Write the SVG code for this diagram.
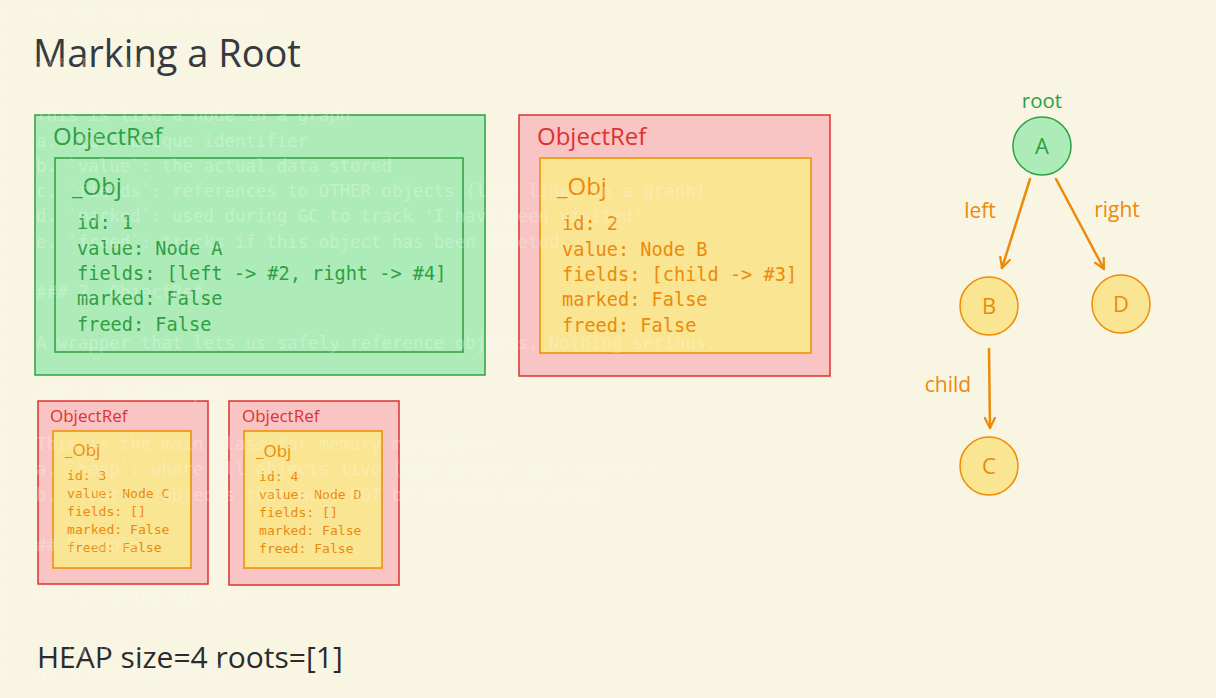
<svg xmlns="http://www.w3.org/2000/svg" width="1216" height="698" viewBox="0 0 1216 698">
<defs>
<style>
.bg{fill:#f8f5e3}
.sans{font-family:"Open Sans","Noto Sans","Liberation Sans",sans-serif}
.mono{font-family:"DejaVu Sans Mono","Liberation Mono",monospace}
.g-fill{fill:#adecb8;stroke:#2f9e44;stroke-width:1.5}
.r-fill{fill:#f8c5c4;stroke:#e03131;stroke-width:1.5}
.y-fill{fill:#f9e592;stroke:#f08c00;stroke-width:1.5}
.gt{fill:#2f9e44}
.rt{fill:#e03131}
.ot{fill:#ec8a0c}
.big-mono{font-size:18.6px}
.small-mono{font-size:13.1px}
.edge{stroke:#ec8a0c;stroke-width:2.5;fill:none;stroke-linecap:round}
.ghost{font-family:"DejaVu Sans Mono","Liberation Mono",monospace;font-size:17.4px;fill:#ffffff;fill-opacity:0.27}
</style>
<marker id="arr" viewBox="0 0 12 12" refX="11" refY="6" markerWidth="12" markerHeight="12" markerUnits="userSpaceOnUse" orient="auto">
<path d="M1,1 L11,6 L1,11" fill="none" stroke="#ec8a0c" stroke-width="2.2" stroke-linecap="round" stroke-linejoin="round"/>
</marker>
</defs>
<rect class="bg" x="0" y="0" width="1216" height="698"/>

<text class="sans" x="33" y="67" font-size="38" fill="#343a40">Marking a Root</text>

<g id="objref-1">
<rect class="g-fill" x="35" y="115" width="450" height="260"/>
<text class="sans gt" x="53" y="145" font-size="24">ObjectRef</text>
<rect class="g-fill" x="55" y="158" width="408" height="194"/>
<text class="sans gt" x="72" y="195" font-size="24">_Obj</text>
<g class="mono big-mono gt">
<text x="77" y="229">id: 1</text>
<text x="77" y="255">value: Node A</text>
<text x="77" y="280">fields: [left -&gt; #2, right -&gt; #4]</text>
<text x="77" y="305">marked: False</text>
<text x="77" y="331">freed: False</text>
</g>
</g>

<g id="objref-2">
<rect class="r-fill" x="519" y="115" width="311" height="261"/>
<text class="sans rt" x="537" y="145" font-size="24">ObjectRef</text>
<rect class="y-fill" x="540" y="158" width="271" height="195"/>
<text class="sans ot" x="557" y="195" font-size="24">_Obj</text>
<g class="mono big-mono ot">
<text x="562" y="230">id: 2</text>
<text x="562" y="256">value: Node B</text>
<text x="562" y="281">fields: [child -&gt; #3]</text>
<text x="562" y="306">marked: False</text>
<text x="562" y="332">freed: False</text>
</g>
</g>

<g id="objref-3">
<rect class="r-fill" x="38" y="401" width="170" height="183"/>
<text class="sans rt" x="50" y="422" font-size="17">ObjectRef</text>
<rect class="y-fill" x="53" y="431" width="138" height="137"/>
<text class="sans ot" x="65" y="456" font-size="17">_Obj</text>
<g class="mono small-mono ot">
<text x="67" y="480">id: 3</text>
<text x="67" y="498">value: Node C</text>
<text x="67" y="516">fields: []</text>
<text x="67" y="534">marked: False</text>
<text x="67" y="552">freed: False</text>
</g>
</g>

<g id="objref-4">
<rect class="r-fill" x="229" y="401" width="170" height="184"/>
<text class="sans rt" x="242" y="422" font-size="17">ObjectRef</text>
<rect class="y-fill" x="244" y="431" width="138" height="137"/>
<text class="sans ot" x="256" y="457" font-size="17">_Obj</text>
<g class="mono small-mono ot">
<text x="259" y="481">id: 4</text>
<text x="259" y="499">value: Node D</text>
<text x="259" y="517">fields: []</text>
<text x="259" y="535">marked: False</text>
<text x="259" y="553">freed: False</text>
</g>
</g>

<text class="sans" x="37" y="668" font-size="30" fill="#2b2b2b">HEAP size=4 roots=[1]</text>

<g id="connectors">
<line class="edge" x1="1030" y1="179" x2="1002" y2="268" marker-end="url(#arr)"/>
<line class="edge" x1="1056" y1="179" x2="1104" y2="269" marker-end="url(#arr)"/>
<line class="edge" x1="989" y1="349" x2="990" y2="428" marker-end="url(#arr)"/>
<text class="sans ot" x="980" y="218" font-size="21" text-anchor="middle">left</text>
<text class="sans ot" x="1117" y="217" font-size="21" text-anchor="middle">right</text>
<text class="sans ot" x="948" y="392" font-size="21" text-anchor="middle">child</text>
</g>

<g id="node-A">
<text class="sans gt" x="1042" y="108" font-size="20.5" text-anchor="middle">root</text>
<circle class="g-fill" cx="1042" cy="146" r="29"/>
<text class="sans gt" x="1042" y="154" font-size="22" text-anchor="middle">A</text>
</g>
<g id="node-B">
<circle class="y-fill" cx="989" cy="306" r="29"/>
<text class="sans ot" x="989" y="314" font-size="22" text-anchor="middle">B</text>
</g>
<g id="node-D">
<circle class="y-fill" cx="1121" cy="304" r="29"/>
<text class="sans ot" x="1121" y="312" font-size="22" text-anchor="middle">D</text>
</g>
<g id="node-C">
<circle class="y-fill" cx="989" cy="466" r="29"/>
<text class="sans ot" x="989" y="474" font-size="22" text-anchor="middle">C</text>
</g>

<g id="ghost-text" class="ghost">
<text x="-1" y="20">8</text><text x="36" y="20">## The Building Blocks</text>
<text x="-1" y="45.3">9</text>
<text x="-1" y="70.6">0</text><text x="36" y="70.6">### 1. _Obj</text>
<text x="-1" y="95.9">1</text>
<text x="-1" y="121.2">2</text><text x="36" y="121.2">This is like a node in a graph</text>
<text x="-1" y="146.5">3</text><text x="36" y="146.5">a. `id`: unique identifier</text>
<text x="-1" y="171.8">4</text><text x="36" y="171.8">b. `value`: the actual data stored</text>
<text x="-1" y="197.1">5</text><text x="36" y="197.1">c. `fields`: references to OTHER objects (like links in a graph)</text>
<text x="-1" y="222.4">6</text><text x="36" y="222.4">d. `marked`: used during GC to track 'I have been visited'</text>
<text x="-1" y="247.7">7</text><text x="36" y="247.7">e. `freed`: tracks if this object has been deleted</text>
<text x="-1" y="273">8</text>
<text x="-1" y="298.3">9</text><text x="36" y="298.3">### 2. ObjectRef</text>
<text x="-1" y="323.6">0</text>
<text x="-1" y="348.9">1</text><text x="36" y="348.9">A wrapper that lets us safely reference objects. Nothing serious.</text>
<text x="-1" y="374.2">2</text>
<text x="-1" y="399.5">3</text><text x="36" y="399.5">### 3. MarkSweepGC</text>
<text x="-1" y="424.8">4</text>
<text x="-1" y="450.1">5</text><text x="36" y="450.1">This is the main class for memory management.</text>
<text x="-1" y="475.4">6</text><text x="36" y="475.4">a. `heap`: where all objects live (dictionary: id → object)</text>
<text x="-1" y="500.7">7</text><text x="36" y="500.7">b. `roots`: objects that must NOT be garbage collected</text>
<text x="-1" y="526">8</text>
<text x="-1" y="551.3">9</text><text x="36" y="551.3">## Example</text>
<text x="-1" y="576.6">0</text>
<text x="-1" y="601.9">1</text><text x="36" y="601.9">### Creating Objects</text>
<text x="-1" y="627.2">2</text>
<text x="-1" y="652.5">3</text><text x="36" y="652.5">```python</text>
<text x="-1" y="677.8">4</text><text x="36" y="677.8">gc = MarkSweepGC()</text>
</g>
</svg>
